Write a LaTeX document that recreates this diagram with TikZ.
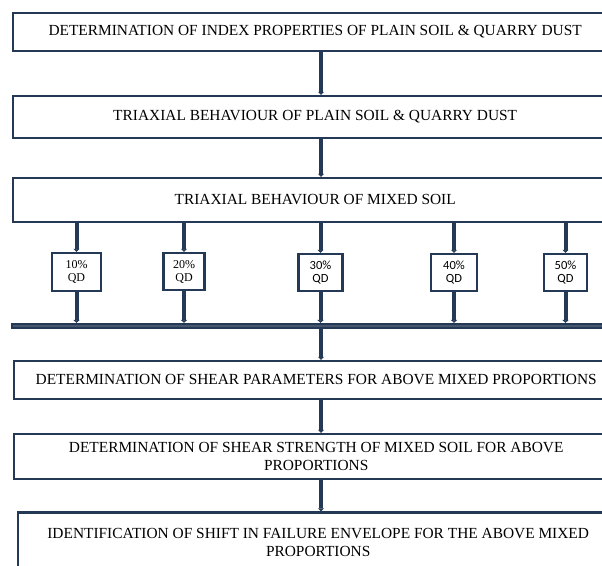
\documentclass[tikz,border=0pt]{standalone}
\usepackage{fontspec}
\setmainfont{Liberation Serif}
\newfontfamily\qdsans{Carlito}
\usetikzlibrary{arrows.meta}
\definecolor{navy}{RGB}{35,57,85}
\begin{document}
\begin{tikzpicture}[x=1pt,y=-1pt,
  bigbox/.style={draw=navy, line width=2.4pt, fill=white, minimum width=604pt, anchor=west, inner sep=0pt, align=center, font=\fontsize{15.4}{18.5}\selectfont},
  pbox/.style={draw=navy, line width=2.2pt, fill=white, inner sep=0pt, align=center, font=\fontsize{12}{13}\selectfont},
  sbox/.style={pbox, font=\qdsans\fontsize{12.5}{13.5}\selectfont},
  conn/.style={draw=navy, line width=4pt, -{Triangle[length=3pt,width=6pt]}}]
\useasboundingbox (0,0) rectangle (602,565);
\clip (0,0) rectangle (602,565);
\coordinate (ax) at (321,0);
\node[bigbox, minimum height=38pt] (b1) at (12,32) {DETERMINATION OF INDEX PROPERTIES OF PLAIN SOIL \& QUARRY DUST};
\node[bigbox, minimum height=42pt] (b2) at (12,117) {TRIAXIAL BEHAVIOUR OF PLAIN SOIL \& QUARRY DUST};
\node[bigbox, minimum height=44pt] (b3) at (12,200) {TRIAXIAL BEHAVIOUR OF MIXED SOIL};
\node[pbox, minimum width=49pt, minimum height=38pt] (p1) at (76.5,272) {10\%\\QD};
\node[pbox, minimum width=41pt, minimum height=37pt] (p2) at (184,271.5) {20\%\\QD};
\node[sbox, minimum width=44pt, minimum height=37pt] (p3) at (320.5,272.5) {30\%\\QD};
\node[sbox, minimum width=46pt, minimum height=37pt] (p4) at (454,272.5) {40\%\\QD};
\node[sbox, minimum width=43pt, minimum height=37pt] (p5) at (565.5,272.5) {50\%\\QD};
\node[draw=navy, fill=navy!85, line width=1.6pt, minimum width=610pt, minimum height=4.5pt, inner sep=0pt, anchor=west] (bar) at (11,326) {};
\node[bigbox, minimum height=38pt] (b4) at (13,380) {DETERMINATION OF SHEAR PARAMETERS FOR ABOVE MIXED PROPORTIONS};
\node[bigbox, minimum height=45pt] (b5) at (13,456.5) {DETERMINATION OF SHEAR STRENGTH OF MIXED SOIL FOR ABOVE\\PROPORTIONS};
\node[bigbox, minimum width=600pt, minimum height=60pt] (b6) at (17,542.5) {IDENTIFICATION OF SHIFT IN FAILURE ENVELOPE FOR THE ABOVE MIXED\\PROPORTIONS};
\draw[conn] (b1.south -| ax) -- (b2.north -| ax);
\draw[conn] (b2.south -| ax) -- (b3.north -| ax);
\foreach \p in {p1,p2,p3,p4,p5}{
  \draw[conn] (b3.south -| \p) -- (\p.north);
  \draw[conn] (\p.south) -- (\p.south |- bar.north);
}
\draw[conn] (bar.south -| ax) -- (b4.north -| ax);
\draw[conn] (b4.south -| ax) -- (b5.north -| ax);
\draw[conn] (b5.south -| ax) -- (b6.north -| ax);
\end{tikzpicture}
\end{document}
